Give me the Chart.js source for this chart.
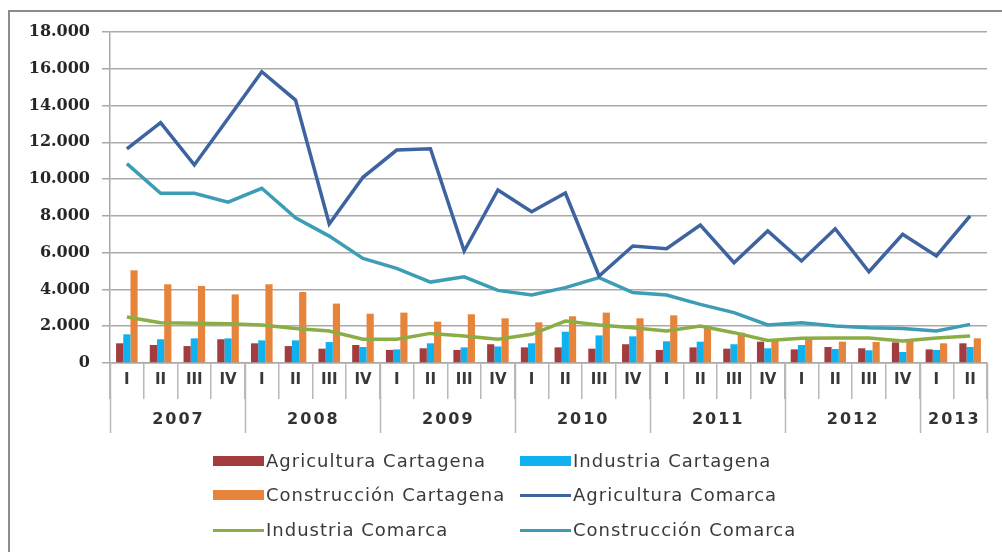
<!DOCTYPE html>
<html>
<head>
<meta charset="utf-8">
<script src="https://cdn.jsdelivr.net/npm/chart.js@4"></script>
<style>
  html, body { margin: 0; padding: 0; background: #fff; }
  #wrap { position: relative; width: 1002px; height: 552px; overflow: hidden; }
  #frame { position: absolute; left: 8px; top: 10px; width: 1100px; height: 600px;
           border: 2px solid #8c8c8c; box-sizing: border-box; }
  #empleo { position: absolute; left: 0; top: 0; }
  #leyenda { position: absolute; left: 0; top: 0; width: 1002px; height: 552px; pointer-events: none;
             font-family: "DejaVu Sans", sans-serif; font-size: 18px; letter-spacing: 1px; color: #3a3a3a; }
  .item { position: absolute; height: 20px; line-height: 20px; white-space: nowrap; }
  .mark { position: absolute; left: 0; }
  .txt { position: absolute; left: 53px; top: 0; }
</style>
</head>
<body>
<div id="wrap">
  <div id="frame"></div>
  <canvas id="empleo" width="1002" height="552"></canvas>
  <div id="leyenda"></div>
</div>
<script>
// trimestres y años
const quarters = ['I','II','III','IV','I','II','III','IV','I','II','III','IV','I','II','III','IV',
                  'I','II','III','IV','I','II','III','IV','I','II'];
const years = ['2007','2008','2009','2010','2011','2012','2013'];
const quartersPerYear = [4, 4, 4, 4, 4, 4, 2];

// Cartagena (barras)
const agriCartagena = [1070, 980, 920, 1290, 1070, 920, 780, 980, 710, 800, 710, 1020, 850,
                       850, 780, 1020, 710, 850, 780, 1160, 740, 870, 800, 1120, 740, 1070];
const induCartagena = [1560, 1290, 1340, 1340, 1230, 1230, 1140, 870, 740, 1070, 850, 900, 1070,
                       1700, 1500, 1450, 1180, 1160, 1020, 800, 980, 760, 690, 600, 710, 870];
const consCartagena = [5040, 4280, 4190, 3730, 4280, 3860, 3230, 2680, 2740, 2250, 2650, 2430, 2210,
                       2540, 2740, 2430, 2590, 2010, 1650, 1290, 1340, 1160, 1140, 1200, 1070, 1340];

// Comarca (líneas)
const agriComarca = [11640, 13070, 10770, 13300, 15840, 14300, 7560, 10100, 11580, 11650, 6090, 9410, 8230,
                     9240, 4730, 6360, 6210, 7500, 5450, 7180, 5550, 7300, 4960, 7000, 5820, 8000];
const induComarca = [2500, 2190, 2160, 2140, 2070, 1880, 1740, 1290, 1290, 1610, 1470, 1290, 1560,
                     2280, 2070, 1920, 1740, 2010, 1650, 1230, 1340, 1360, 1360, 1200, 1360, 1470];
const consComarca = [10840, 9230, 9230, 8750, 9500, 7900, 6900, 5690, 5150, 4400, 4690, 3950, 3700,
                     4100, 4640, 3830, 3700, 3190, 2740, 2070, 2190, 2010, 1920, 1880, 1740, 2100];

const yTicks = [0, 2000, 4000, 6000, 8000, 10000, 12000, 14000, 16000, 18000];

const gridColor = '#a9a9a9';
const sepColor = '#b8b8b8';

function fmt(v) {
  return v.toString().replace(/\B(?=(\d{3})+(?!\d))/g, '.');
}

function barSet(label, data, color) {
  return { type: 'bar', label: label, data: data, backgroundColor: color, order: 2,
           barPercentage: 1.0, categoryPercentage: 0.64 };
}
function lineSet(label, data, color) {
  return { type: 'line', label: label, data: data, borderColor: color, backgroundColor: color,
           borderWidth: 3.5, pointRadius: 0, tension: 0, order: 1 };
}

// separadores y rótulos de año bajo el eje x
const yearAxis = {
  id: 'yearAxis',
  afterDraw(chart) {
    const ctx = chart.ctx;
    const xs = chart.scales.x;
    const bottom = chart.chartArea.bottom;
    const half = (xs.getPixelForValue(1) - xs.getPixelForValue(0)) / 2;
    ctx.save();
    ctx.strokeStyle = sepColor;
    ctx.lineWidth = 1.5;
    ctx.fillStyle = '#333';
    ctx.font = 'bold 16px "DejaVu Sans"';
    ctx.letterSpacing = '2px';
    ctx.textAlign = 'center';
    ctx.textBaseline = 'middle';
    let start = 0;
    years.forEach((y, i) => {
      const n = quartersPerYear[i];
      const left = xs.getPixelForValue(start) - half;
      const right = xs.getPixelForValue(start + n - 1) + half;
      ctx.beginPath();
      ctx.moveTo(Math.round(left) + 0.5, bottom);
      ctx.lineTo(Math.round(left) + 0.5, bottom + 70);
      if (i === years.length - 1) {
        ctx.moveTo(Math.round(right) + 0.5, bottom);
        ctx.lineTo(Math.round(right) + 0.5, bottom + 70);
      }
      ctx.stroke();
      ctx.fillText(y, (left + right) / 2 + 1, bottom + 57);
      start += n;
    });
    ctx.restore();
  }
};

const ctx = document.getElementById('empleo').getContext('2d');
const empleoChart = new Chart(ctx, {
  data: {
    labels: quarters,
    datasets: [
      barSet('Agricultura Cartagena', agriCartagena, '#a23c3e'),
      barSet('Industria Cartagena', induCartagena, '#0fb2ee'),
      barSet('Construcción Cartagena', consCartagena, '#e5843a'),
      lineSet('Agricultura Comarca', agriComarca, '#3d63a1'),
      lineSet('Industria Comarca', induComarca, '#8aad45'),
      lineSet('Construcción Comarca', consComarca, '#3c9db4')
    ]
  },
  options: {
    responsive: false,
    animation: false,
    layout: { padding: { left: 0, right: 15, top: 32, bottom: 119 } },
    plugins: { legend: { display: false }, tooltip: { enabled: false } },
    scales: {
      x: {
        offset: true,
        afterFit(scale) { scale.height = 70; },
        border: { color: gridColor, width: 1.5 },
        grid: { offset: true, drawOnChartArea: false, tickLength: 36, color: sepColor, lineWidth: 1.5 },
        ticks: { padding: -28, color: '#383838', font: { family: 'DejaVu Sans', size: 15, weight: 'bold' },
                 maxRotation: 0, autoSkip: false }
      },
      y: {
        min: 0, max: 18000,
        afterFit(scale) { scale.width = 110; },
        afterBuildTicks(scale) { scale.ticks = yTicks.map(v => ({ value: v })); },
        border: { color: gridColor, width: 1.5 },
        grid: { color: gridColor, lineWidth: 1.5, tickLength: 8 },
        ticks: { padding: 12, color: '#262626', font: { family: 'DejaVu Serif', size: 16, weight: 'bold' },
                 callback: v => fmt(v) }
      }
    }
  },
  plugins: [yearAxis]
});

// leyenda en dos columnas
const legendPos = [[213, 451], [520, 451], [213, 485], [520, 485], [213, 520], [520, 520]];
const leyenda = document.getElementById('leyenda');
empleoChart.data.datasets.forEach((ds, i) => {
  const item = document.createElement('div');
  item.className = 'item';
  item.style.left = legendPos[i][0] + 'px';
  item.style.top = legendPos[i][1] + 'px';
  const mark = document.createElement('div');
  mark.className = 'mark';
  if (ds.type === 'bar') {
    mark.style.cssText += 'top:5px;width:51px;height:10px;background:' + ds.backgroundColor;
  } else {
    mark.style.cssText += 'top:9px;width:51px;height:3px;background:' + ds.borderColor;
  }
  const txt = document.createElement('span');
  txt.className = 'txt';
  txt.textContent = ds.label;
  item.appendChild(mark);
  item.appendChild(txt);
  leyenda.appendChild(item);
});
</script>
</body>
</html>
